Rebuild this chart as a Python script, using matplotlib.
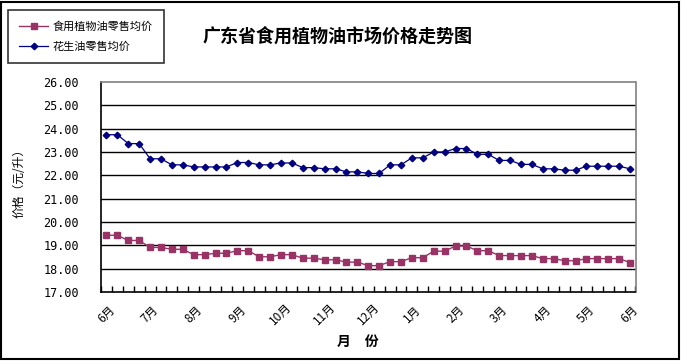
import numpy as np
import matplotlib
matplotlib.use("Agg")
import matplotlib.pyplot as plt
from matplotlib.patches import Rectangle

plt.rcParams['font.family'] = ['Noto Sans CJK SC', 'DejaVu Sans']

# weekly retail prices, 49 points (June to June)
edible_oil = [19.43, 19.43, 19.21, 19.21, 18.91, 18.91, 18.83, 18.83, 18.60, 18.60,
              18.66, 18.66, 18.77, 18.77, 18.51, 18.51, 18.60, 18.60, 18.45, 18.45,
              18.38, 18.38, 18.28, 18.28, 18.13, 18.13, 18.30, 18.30, 18.47, 18.47,
              18.75, 18.75, 18.97, 18.97, 18.77, 18.77, 18.56, 18.56, 18.56, 18.56,
              18.43, 18.43, 18.34, 18.34, 18.43, 18.43, 18.43, 18.43, 18.26]
peanut_oil = [23.74, 23.74, 23.36, 23.36, 22.71, 22.71, 22.45, 22.45, 22.36, 22.36,
              22.36, 22.36, 22.55, 22.55, 22.45, 22.45, 22.53, 22.53, 22.33, 22.33,
              22.28, 22.28, 22.15, 22.15, 22.08, 22.08, 22.45, 22.45, 22.75, 22.75,
              23.00, 23.00, 23.15, 23.15, 22.90, 22.90, 22.64, 22.64, 22.47, 22.47,
              22.28, 22.28, 22.22, 22.22, 22.39, 22.39, 22.39, 22.39, 22.28]
month_labels = ['6月', '7月', '8月', '9月', '10月', '11月', '12月',
                '1月', '2月', '3月', '4月', '5月', '6月']
series_names = ['食用植物油零售均价', '花生油零售均价']

W, H = 682, 361
fig = plt.figure(figsize=(W / 100, H / 100), dpi=100)
ax = fig.add_axes([101 / W, 1 - 292 / H, (635.5 - 101) / W, (292 - 82) / H])

x = np.arange(len(edible_oil))
l1, = ax.plot(x, edible_oil, color='#993366', lw=1.0, marker='s', ms=4.5,
              label=series_names[0])
l2, = ax.plot(x, peanut_oil, color='#000080', lw=0.9, marker='D', ms=3.3,
              label=series_names[1])

ax.set_xlim(-0.5, len(x) - 0.5)
ax.set_ylim(17, 26)
ax.set_yticks(np.arange(17, 26.01, 1))
ax.set_yticklabels([f'{v:.2f}' for v in np.arange(17, 26.01, 1)],
                   family='DejaVu Sans Mono', fontsize=8.5)
ax.tick_params(axis='y', length=0, pad=16)
for v in range(18, 26):
    ax.axhline(v, color='black', lw=1, zorder=0)

# ticks between categories, labels every 4 weeks
ax.set_xticks(np.arange(-0.5, len(x), 1))
ax.set_xticklabels([])
ax.tick_params(axis='x', which='major', direction='in', length=4, width=1)
ax.set_xticks(np.arange(0, len(x), 4), minor=True)
ax.set_xticklabels(month_labels, minor=True, fontsize=8.5)
ax.tick_params(axis='x', which='minor', length=0, pad=16)
for t in ax.get_xticklabels(minor=True):
    t.set_rotation(45)
    t.set_rotation_mode('anchor')
    t.set_ha('center')
    t.set_va('center')

for s in ['left', 'bottom']:
    ax.spines[s].set_color('black')
    ax.spines[s].set_linewidth(1.2)
for s in ['top', 'right']:
    ax.spines[s].set_color('#808080')
    ax.spines[s].set_linewidth(1.2)

fig.text(19 / W, 1 - 180 / H, '价格（元/升）', rotation=90, ha='center', va='center',
         fontsize=8.5)
fig.text(358 / W, 1 - 342 / H, '月\u3000份', ha='center', va='center',
         fontsize=10, fontweight='bold')
fig.text(338 / W, 1 - 36 / H, '广东省食用植物油市场价格走势图', ha='center', va='center',
         fontsize=13, fontweight='bold')

leg = fig.legend(handles=[l1, l2], loc='upper left',
                 bbox_to_anchor=(8 / W, 1 - 10 / H), fontsize=8,
                 frameon=True, fancybox=False, handlelength=2.6,
                 borderpad=1.0, labelspacing=0.85, handletextpad=0.4,
                 borderaxespad=0)
leg.get_frame().set_edgecolor('black')
leg.get_frame().set_linewidth(1.2)

fig.patches.append(Rectangle((1 / W, 2 / H), 678 / W, 357 / H, transform=fig.transFigure,
                             fill=False, edgecolor='black', lw=1.5))

fig.savefig('out.png', dpi=100)
